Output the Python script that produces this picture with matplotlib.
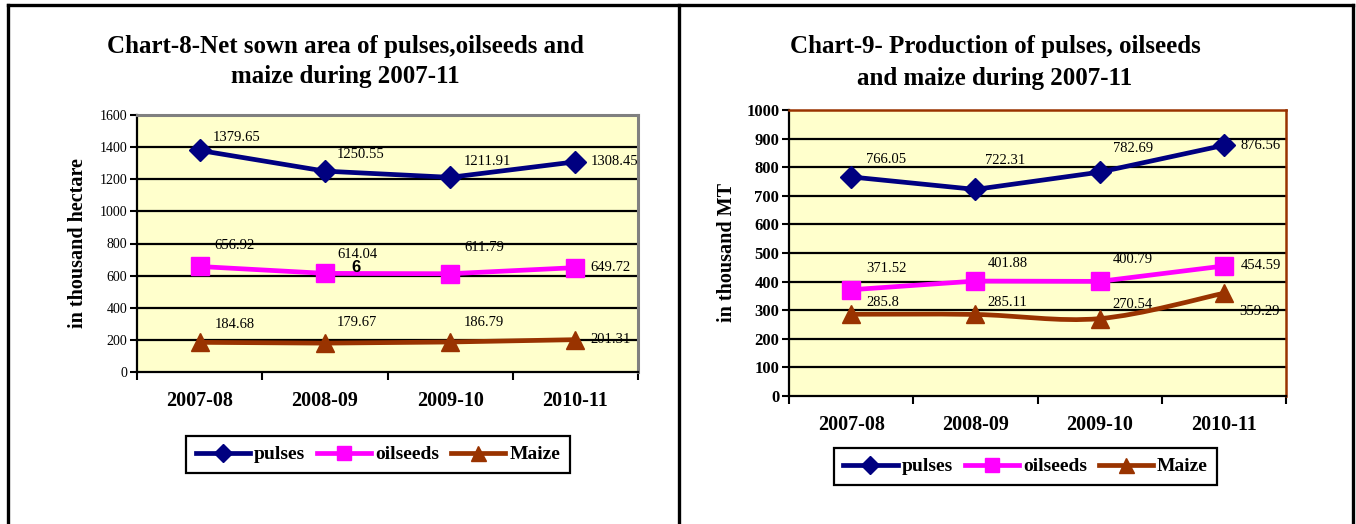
import matplotlib

matplotlib.use("Agg")
import matplotlib.pyplot as plt
from matplotlib.lines import Line2D
from matplotlib.patches import PathPatch
from matplotlib.path import Path


SEASONS = ["2007-08", "2008-09", "2009-10", "2010-11"]
SERIES_NAMES = ["pulses", "oilseeds", "Maize"]

# net sown area, thousand hectare
AREA_PULSES = [1379.65, 1250.55, 1211.91, 1308.45]
AREA_OILSEEDS = [656.92, 614.04, 611.79, 649.72]
AREA_MAIZE = [184.68, 179.67, 186.79, 201.31]

# production, thousand MT
PROD_PULSES = [766.05, 722.31, 782.69, 876.56]
PROD_OILSEEDS = [371.52, 401.88, 400.79, 454.59]
PROD_MAIZE = [285.8, 285.11, 270.54, 359.29]

STYLES = {
    "pulses": {"color": "#000080", "marker": "D", "ms": 11.5},
    "oilseeds": {"color": "#FF00FF", "marker": "s", "ms": 13},
    "Maize": {"color": "#993300", "marker": "^", "ms": 13.5},
}

FIG_W, FIG_H = 1356, 524
PX = 0.72  # points per pixel at dpi 100

plt.rcParams["font.family"] = ["Liberation Serif", "DejaVu Serif"]


def fx(px):
    return px / FIG_W


def fy(py):
    return 1 - py / FIG_H


def smooth_path(xs, ys):
    # bezier curve through the points, same idea as a spreadsheet "smoothed line"
    pts = list(zip(xs, ys))
    verts = [pts[0]]
    codes = [Path.MOVETO]
    for i in range(len(pts) - 1):
        p0 = pts[max(i - 1, 0)]
        p1 = pts[i]
        p2 = pts[i + 1]
        p3 = pts[min(i + 2, len(pts) - 1)]
        c1 = (p1[0] + (p2[0] - p0[0]) / 6, p1[1] + (p2[1] - p0[1]) / 6)
        c2 = (p2[0] - (p3[0] - p1[0]) / 6, p2[1] - (p3[1] - p1[1]) / 6)
        verts += [c1, c2, p2]
        codes += [Path.CURVE4] * 3
    return Path(verts, codes)


def draw_chart(ax, series, ymax, ystep, offsets, frame_color, frame_width,
               bold_yticks, smooth=()):
    x = list(range(len(SEASONS)))
    ax.set_facecolor("#FFFFCC")
    ax.set_xlim(-0.5, len(SEASONS) - 0.5)
    ax.set_ylim(0, ymax)

    for level in range(ystep, ymax, ystep):
        ax.axhline(level, color="black", lw=1.6, zorder=1)

    for name, values, offs in zip(SERIES_NAMES, series, offsets):
        st = STYLES[name]
        if name in smooth:
            ax.add_patch(PathPatch(smooth_path(x, values), fill=False,
                                   edgecolor=st["color"], lw=3.4, zorder=3))
            ax.plot(x, values, linestyle="none", marker=st["marker"],
                    ms=st["ms"], color=st["color"], zorder=4)
        else:
            ax.plot(x, values, color=st["color"], lw=3.4, marker=st["marker"],
                    ms=st["ms"], zorder=3)
        for xi, v, (dx, dy) in zip(x, values, offs):
            ax.annotate(f"{v:g}", (xi, v), xytext=(dx * PX, dy * PX),
                        textcoords="offset points", ha="left", va="center",
                        fontsize=10.5, zorder=5)

    for side in ("left", "bottom"):
        ax.spines[side].set_color("black")
        ax.spines[side].set_linewidth(1.6)
    for side in ("top", "right"):
        ax.spines[side].set_color(frame_color)
        ax.spines[side].set_linewidth(frame_width)

    ax.set_yticks(range(0, ymax + 1, ystep))
    ax.tick_params(axis="y", direction="out", length=5, width=1.5, pad=2,
                   labelsize=10)
    if bold_yticks:
        for lbl in ax.get_yticklabels():
            lbl.set_fontweight("bold")
            lbl.set_fontsize(12)

    ax.set_xticks([i - 0.5 for i in range(len(SEASONS) + 1)])
    ax.set_xticklabels([])
    ax.tick_params(axis="x", which="major", direction="out", length=6,
                   width=1.5)
    ax.set_xticks(x, minor=True)
    ax.set_xticklabels(SEASONS, minor=True, fontsize=14.5, fontweight="bold")
    ax.tick_params(axis="x", which="minor", length=0, pad=14)


def add_legend(fig, cx, cy):
    handles = [
        Line2D([], [], color=STYLES[n]["color"], lw=3.4,
               marker=STYLES[n]["marker"], ms=STYLES[n]["ms"] * 0.8)
        for n in SERIES_NAMES
    ]
    leg = fig.legend(handles, SERIES_NAMES, loc="center",
                     bbox_to_anchor=(fx(cx), fy(cy)), ncol=3, fancybox=False,
                     edgecolor="black", framealpha=1, handlelength=2.8,
                     handletextpad=0.2, columnspacing=0.6, borderpad=0.5,
                     prop={"size": 14, "weight": "bold"})
    leg.get_frame().set_linewidth(1.6)


fig = plt.figure(figsize=(FIG_W / 100, FIG_H / 100), dpi=100)

# panel frames
frame = {"color": "black", "lw": 2.4, "transform": fig.transFigure}
fig.add_artist(Line2D([fx(8), fx(1353)], [fy(4.5), fy(4.5)], **frame))
for xpos in (8, 679, 1353):
    fig.add_artist(Line2D([fx(xpos), fx(xpos)], [fy(4.5), fy(530)], **frame))

# Chart 8: net sown area
ax1 = fig.add_axes([fx(137), fy(372), fx(638 - 137), (372 - 115) / FIG_H])
area_offsets = [
    [(13, 13), (12, 17), (14, 16), (15, 0)],
    [(15, 21), (12, 19), (14, 26), (15, 0)],
    [(15, 18), (12, 21), (14, 19), (15, 0)],
]
draw_chart(ax1, [AREA_PULSES, AREA_OILSEEDS, AREA_MAIZE], 1600, 200,
           area_offsets, "#808080", 2.2, bold_yticks=False)
fig.text(fx(345), fy(47), "Chart-8-Net sown area of pulses,oilseeds and",
         ha="center", va="center", fontsize=18, fontweight="bold")
fig.text(fx(345), fy(77), "maize during 2007-11", ha="center", va="center",
         fontsize=18, fontweight="bold")
fig.text(fx(78), fy(243), "in thousand hectare", rotation=90, ha="center",
         va="center", fontsize=14.5, fontweight="bold")
fig.text(fx(356), fy(268), "6", ha="center", va="center", fontsize=12,
         fontweight="bold", family="Liberation Sans")
add_legend(fig, 378, 454.5)

# Chart 9: production
ax2 = fig.add_axes([fx(789), fy(396), fx(1286 - 789), (396 - 110) / FIG_H])
prod_offsets = [
    [(15, 17), (10, 29), (13, 24), (17, 0)],
    [(15, 21), (12, 18), (13, 22), (17, 0)],
    [(15, 12), (12, 12), (13, 14), (15, -18)],
]
draw_chart(ax2, [PROD_PULSES, PROD_OILSEEDS, PROD_MAIZE], 1000, 100,
           prod_offsets, "#993300", 1.8, bold_yticks=True, smooth=("Maize",))
fig.text(fx(995), fy(47), "Chart-9- Production of pulses, oilseeds",
         ha="center", va="center", fontsize=18, fontweight="bold")
fig.text(fx(995), fy(78), "and maize during 2007-11", ha="center",
         va="center", fontsize=18, fontweight="bold")
fig.text(fx(727), fy(253), "in thousand MT", rotation=90, ha="center",
         va="center", fontsize=14.5, fontweight="bold")
add_legend(fig, 1025.5, 466.5)

fig.savefig("out.png", dpi=100)
